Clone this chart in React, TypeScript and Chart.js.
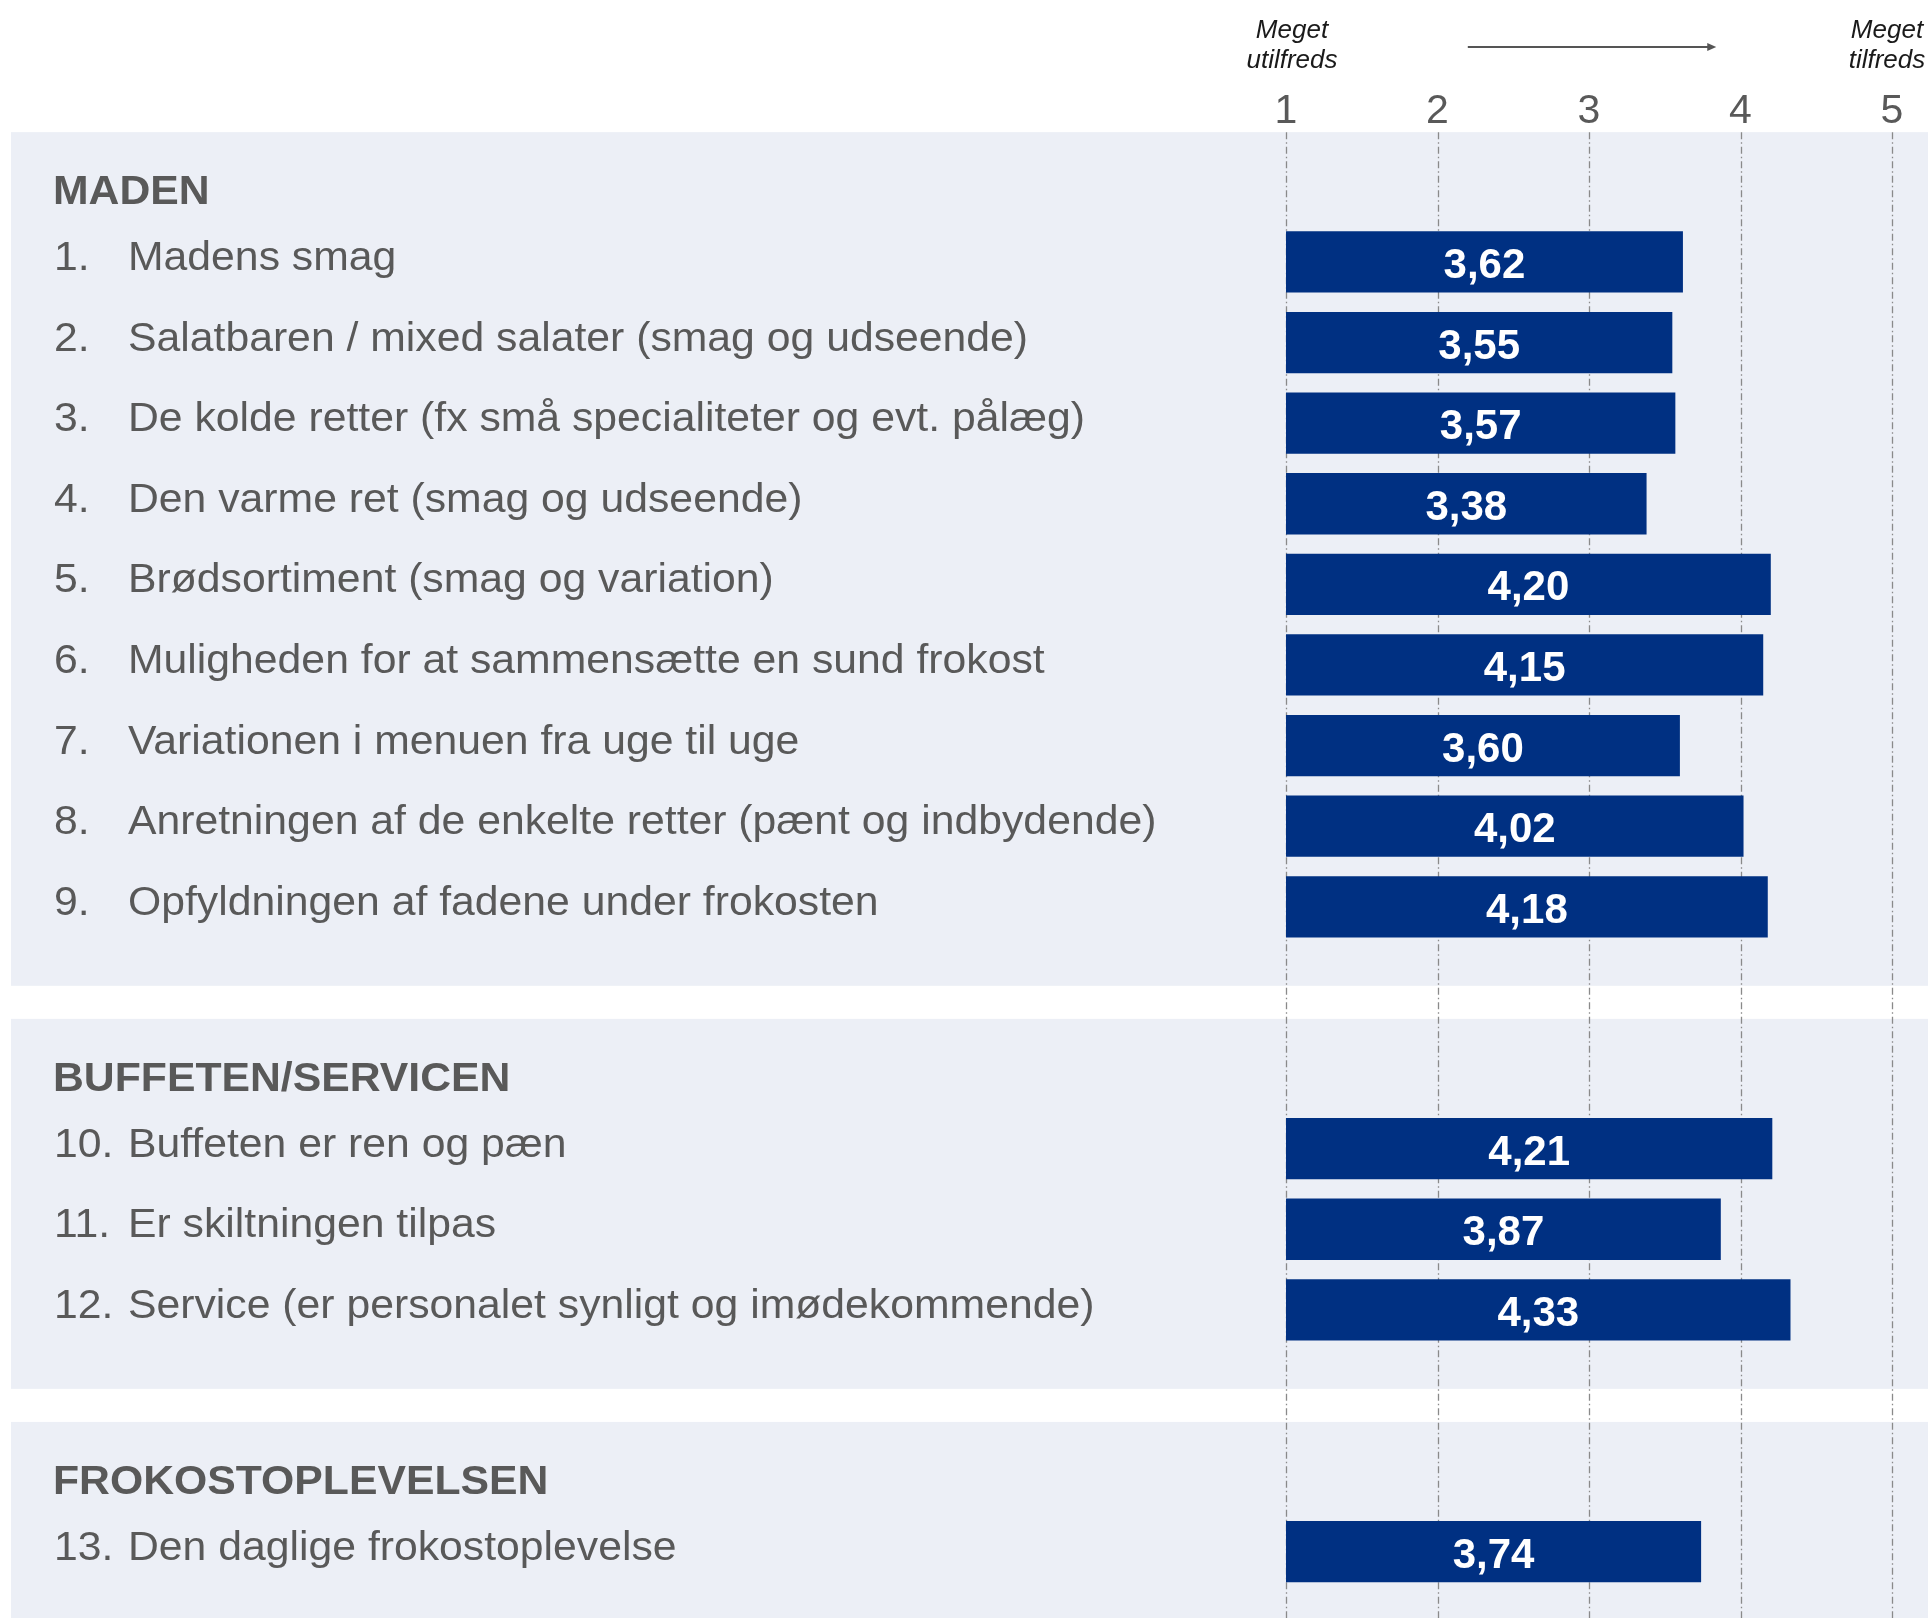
import React, { useEffect, useRef } from "react";
import { Chart, registerables } from "chart.js";

Chart.register(...registerables);

// ---- data ----
const SECTIONS = ["MADEN", "BUFFETEN/SERVICEN", "FROKOSTOPLEVELSEN"];
const ITEM_NUMBERS = ["1.", "2.", "3.", "4.", "5.", "6.", "7.", "8.", "9.", "10.", "11.", "12.", "13."];
const ITEMS = [
  "Madens smag",
  "Salatbaren / mixed salater (smag og udseende)",
  "De kolde retter (fx små specialiteter og evt. pålæg)",
  "Den varme ret (smag og udseende)",
  "Brødsortiment (smag og variation)",
  "Muligheden for at sammensætte en sund frokost",
  "Variationen i menuen fra uge til uge",
  "Anretningen af de enkelte retter (pænt og indbydende)",
  "Opfyldningen af fadene under frokosten",
  "Buffeten er ren og pæn",
  "Er skiltningen tilpas",
  "Service (er personalet synligt og imødekommende)",
  "Den daglige frokostoplevelse",
];
const ITEM_SECTION = [0, 0, 0, 0, 0, 0, 0, 0, 0, 1, 1, 1, 2];
const VALUES = [3.62, 3.55, 3.57, 3.38, 4.2, 4.15, 3.6, 4.02, 4.18, 4.21, 3.87, 4.33, 3.74];
const SCALE_MIN = 1;
const SCALE_MAX = 5;
const LOW_LABEL = ["Meget", "utilfreds"];
const HIGH_LABEL = ["Meget", "tilfreds"];

// ---- styles ----
const FONT = "'Liberation Sans', Arial, Helvetica, sans-serif";
const TEXT_GRAY = "#595959";
const BAR_COLOR = "#003082";
const PANEL_COLOR = "#ECEFF6";
const GRID_COLOR = "#8a8a8a";
const TEXT_STRETCH = 1.042;

type Slot = { kind: "header" | "item" | "gap"; section?: number; item?: number };

function buildSlots(): Slot[] {
  const slots: Slot[] = [];
  SECTIONS.forEach((_, si) => {
    if (si > 0) slots.push({ kind: "gap" });
    slots.push({ kind: "header", section: si });
    ITEMS.forEach((_, i) => {
      if (ITEM_SECTION[i] === si) slots.push({ kind: "item", item: i });
    });
  });
  return slots;
}

const fmt = (v: number) => v.toFixed(2).replace(".", ",");

function stretchedText(ctx: CanvasRenderingContext2D, text: string, x: number, y: number) {
  ctx.save();
  ctx.translate(x, y);
  ctx.scale(TEXT_STRETCH, 1);
  ctx.fillText(text, 0, 0);
  ctx.restore();
}

export default function App() {
  const ref = useRef<HTMLCanvasElement | null>(null);

  useEffect(() => {
    const canvas = ref.current;
    if (!canvas) return;
    const slots = buildSlots();
    const labels = slots.map((s) =>
      s.kind === "header" ? SECTIONS[s.section!] : s.kind === "item" ? ITEMS[s.item!] : ""
    );
    const data = slots.map((s) => (s.kind === "item" ? [SCALE_MIN, VALUES[s.item!]] : null));

    const decor = {
      id: "decor",
      beforeDraw(chart: any) {
        const { ctx, width, height } = chart;
        const x = chart.scales.x;
        const y = chart.scales.y;
        const pitch = y.getPixelForValue(1) - y.getPixelForValue(0);
        ctx.save();
        ctx.fillStyle = "#ffffff";
        ctx.fillRect(0, 0, width, height);
        // panels
        SECTIONS.forEach((_, si) => {
          const hIdx = slots.findIndex((s) => s.kind === "header" && s.section === si);
          let last = hIdx;
          slots.forEach((s, k) => {
            if (s.kind === "item" && ITEM_SECTION[s.item!] === si) last = k;
          });
          const top = y.getPixelForValue(hIdx) - 0.61 * pitch;
          const bottom = si === SECTIONS.length - 1 ? height : y.getPixelForValue(last) + 0.98 * pitch;
          ctx.fillStyle = PANEL_COLOR;
          ctx.fillRect(11, top, width - 11, bottom - top);
        });
        // grid lines
        const gridTop = y.getPixelForValue(0) - 0.61 * pitch;
        ctx.strokeStyle = GRID_COLOR;
        ctx.lineWidth = 1.3;
        ctx.setLineDash([7, 3, 1.5, 3]);
        for (let v = SCALE_MIN; v <= SCALE_MAX; v++) {
          const px = Math.round(x.getPixelForValue(v)) + 0.5;
          ctx.beginPath();
          ctx.moveTo(px, gridTop);
          ctx.lineTo(px, height);
          ctx.stroke();
        }
        ctx.setLineDash([]);

        // top captions
        ctx.fillStyle = "#1a1a1a";
        ctx.font = `italic 26px ${FONT}`;
        ctx.textAlign = "center";
        ctx.textBaseline = "alphabetic";
        const lowX = x.getPixelForValue(SCALE_MIN) + 6;
        const highX = x.getPixelForValue(SCALE_MAX) - 5;
        LOW_LABEL.forEach((t, i) => ctx.fillText(t, lowX, 38 + i * 30));
        HIGH_LABEL.forEach((t, i) => ctx.fillText(t, highX, 38 + i * 30));
        // arrow
        const ax0 = x.getPixelForValue(2.2);
        const ax1 = x.getPixelForValue(3.84);
        ctx.strokeStyle = "#555555";
        ctx.fillStyle = "#555555";
        ctx.lineWidth = 2;
        ctx.beginPath();
        ctx.moveTo(ax0, 47);
        ctx.lineTo(ax1 - 6, 47);
        ctx.stroke();
        ctx.beginPath();
        ctx.moveTo(ax1, 47);
        ctx.lineTo(ax1 - 9, 43);
        ctx.lineTo(ax1 - 9, 51);
        ctx.closePath();
        ctx.fill();

        // left labels
        slots.forEach((s, k) => {
          const cy = y.getPixelForValue(k);
          ctx.textAlign = "left";
          ctx.textBaseline = "alphabetic";
          ctx.fillStyle = TEXT_GRAY;
          if (s.kind === "header") {
            ctx.font = `bold 41px ${FONT}`;
            stretchedText(ctx, SECTIONS[s.section!], 53, cy + 23);
          } else if (s.kind === "item") {
            ctx.font = `41px ${FONT}`;
            stretchedText(ctx, ITEM_NUMBERS[s.item!], 54, cy + 8);
            stretchedText(ctx, ITEMS[s.item!], 128, cy + 8);
          }
        });
        ctx.restore();
      },
      afterDatasetsDraw(chart: any) {
        const { ctx } = chart;
        const x = chart.scales.x;
        const y = chart.scales.y;
        ctx.save();
        ctx.fillStyle = "#ffffff";
        ctx.font = `bold 42px ${FONT}`;
        ctx.textAlign = "center";
        ctx.textBaseline = "alphabetic";
        slots.forEach((s, k) => {
          if (s.kind !== "item") return;
          const v = VALUES[s.item!];
          const cx = (x.getPixelForValue(SCALE_MIN) + x.getPixelForValue(v)) / 2;
          ctx.fillText(fmt(v), cx, y.getPixelForValue(k) + 16);
        });
        ctx.restore();
      },
    };

    const chart = new Chart(canvas, {
      type: "bar",
      data: {
        labels,
        datasets: [
          {
            data: data as any,
            backgroundColor: BAR_COLOR,
            borderWidth: 0,
            barPercentage: 0.76,
            categoryPercentage: 1,
          },
        ],
      },
      options: {
        indexAxis: "y",
        responsive: false,
        animation: false,
        devicePixelRatio: 1,
        layout: { padding: { left: 1286, right: 36, top: 0, bottom: 26 } },
        plugins: { legend: { display: false }, tooltip: { enabled: false } },
        scales: {
          x: {
            type: "linear",
            position: "top",
            min: SCALE_MIN,
            max: SCALE_MAX,
            ticks: {
              stepSize: 1,
              color: TEXT_GRAY,
              font: { family: FONT, size: 41 },
              padding: -3,
            },
            grid: { display: false },
            border: { display: false },
            afterFit: (scale: any) => {
              scale.height = 141;
            },
          },
          y: {
            type: "category",
            display: false,
            offset: true,
            grid: { display: false },
          },
        },
      },
      plugins: [decor],
    });
    return () => chart.destroy();
  }, []);

  return (
    <div style={{ position: "absolute", left: 0, top: 0, width: 1928, height: 1618 }}>
      <canvas ref={ref} width={1928} height={1618} style={{ display: "block" }} />
    </div>
  );
}
